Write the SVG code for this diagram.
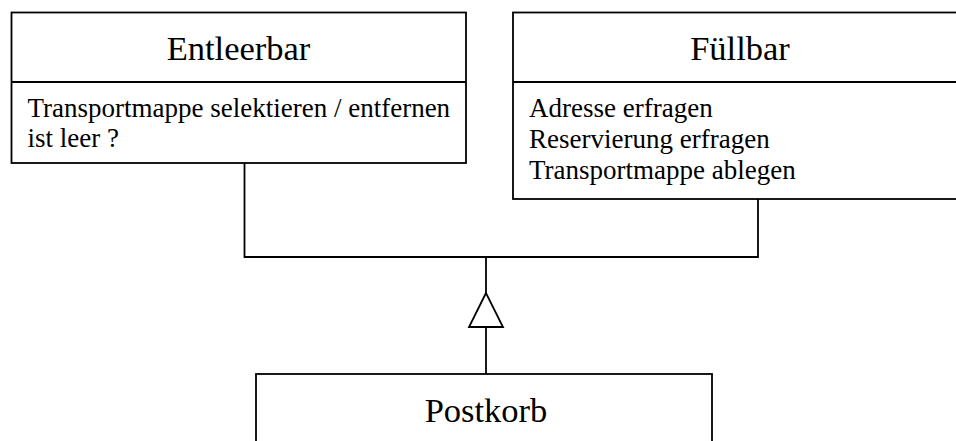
<svg xmlns="http://www.w3.org/2000/svg" width="956" height="441" viewBox="0 0 956 441">
  <style>
    .box { fill: #fff; stroke: #000; stroke-width: 1.8; }
    .line { fill: none; stroke: #000; stroke-width: 1.8; }
    .title { font-family: "Liberation Serif", "Times New Roman", serif; font-size: 34.5px; fill: #000; text-anchor: middle; }
    .op { font-family: "Liberation Serif", "Times New Roman", serif; font-size: 27px; fill: #000; }
  </style>
  <rect width="956" height="441" fill="#fff"/>

  <!-- inheritance connectors -->
  <g id="connectors">
    <polyline class="line" points="244.5,163 244.5,257 758,257 758,199"/>
    <line class="line" x1="486" y1="257" x2="486" y2="293"/>
    <polygon class="line" points="486,293 469,327 503,327" fill="#fff"/>
    <line class="line" x1="486" y1="327" x2="486" y2="374"/>
  </g>

  <g id="entleerbar">
    <rect class="box" x="11.5" y="12.5" width="454.5" height="150.5"/>
    <line class="line" x1="11.5" y1="82" x2="466" y2="82"/>
    <text class="title" x="238.5" y="60">Entleerbar</text>
    <text class="op" x="27.5" y="117">Transportmappe selektieren / entfernen</text>
    <text class="op" x="27.5" y="147">ist leer ?</text>
  </g>

  <g id="fuellbar">
    <rect class="box" x="513" y="12.5" width="460" height="186.5"/>
    <line class="line" x1="513" y1="82" x2="973" y2="82"/>
    <text class="title" x="740" y="60">Füllbar</text>
    <text class="op" x="529" y="117">Adresse erfragen</text>
    <text class="op" x="529" y="148">Reservierung erfragen</text>
    <text class="op" x="529" y="179">Transportmappe ablegen</text>
  </g>

  <g id="postkorb">
    <rect class="box" x="256" y="374" width="456" height="90"/>
    <text class="title" x="486" y="422">Postkorb</text>
  </g>
</svg>
